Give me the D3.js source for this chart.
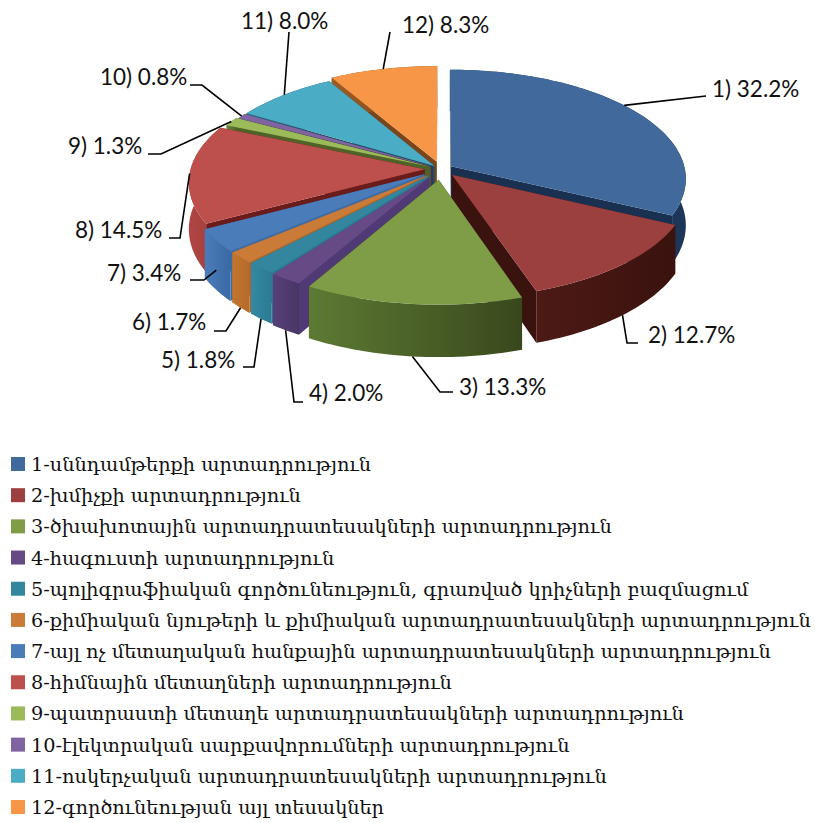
<!DOCTYPE html>
<html>
<head>
<meta charset="utf-8">
<script src="https://cdnjs.cloudflare.com/ajax/libs/d3/7.8.5/d3.min.js"></script>
<style>
html, body { margin: 0; padding: 0; background: #fff; }
svg { display: block; }
</style>
</head>
<body>
<svg id="chart"></svg>
<script>
const shares = [32.2, 12.7, 13.3, 2.0, 1.8, 1.7, 3.4, 14.5, 1.3, 0.8, 8.0, 8.3];
const categories = [
    "1-սննդամթերքի արտադրություն",
    "2-խմիչքի արտադրություն",
    "3-ծխախոտային արտադրատեսակների արտադրություն",
    "4-հագուստի արտադրություն",
    "5-պոլիգրաֆիական գործունեություն, գրառված կրիչների բազմացում",
    "6-քիմիական նյութերի և քիմիական արտադրատեսակների արտադրություն",
    "7-այլ ոչ մետաղական հանքային արտադրատեսակների արտադրություն",
    "8-հիմնային մետաղների արտադրություն",
    "9-պատրաստի մետաղե արտադրատեսակների արտադրություն",
    "10-էլեկտրական սարքավորումների արտադրություն",
    "11-ոսկերչական արտադրատեսակների արտադրություն",
    "12-գործունեության այլ տեսակներ"
];
const topColors = ["#41699b", "#9b403e", "#7f9c47", "#664a86", "#34869f", "#c97b37", "#4a7cba", "#bd4f4c", "#9bbb59", "#8064a2", "#4bacc6", "#f79646"];
const wallLight = ["#35577f", "#4d1a16", "#5d7a34", "#57407a", "#358aa3", "#c4752f", "#4a7cba", "#b04644", "#6f8a3c", "#5f4a7d", "#2c6f85", "#9c5c24"];
const wallDark = ["#1d3557", "#3a120e", "#39481c", "#493565", "#2a7a92", "#b56a2a", "#3a69a2", "#9f3c3a", "#4f6328", "#40305a", "#1e5265", "#7a4518"];
const cutColors = ["#1a3050", "#3a120e", "#39481c", "#4f3a75", "#2a7a92", "#ab6729", "#3d6ca6", "#6a1c1a", "#4f6328", "#40305a", "#1e5265", "#7a4518"];

// pie geometry and perspective
const W = 815, H = 823;
const cx = 441, cy = 169, rx = 234, ry = 108, k = 0.113, depth = 46;
const explode = [0.05, 0.07, 0.1, 0.09, 0.085, 0.085, 0.085, 0.07, 0.05, 0.04, 0.04, 0.07];

const svg = d3.select("#chart").attr("width", W).attr("height", H);
const defs = svg.append("defs");

const xScale = d3.scaleLinear().domain([-1, 1]).range([cx - rx, cx + rx]);
const yScale = d3.scaleLinear().domain([-1, 1]).range([cy - ry, cy + ry]);
const zScale = d3.scaleLinear().domain([0, 1]).range([0, depth]);

function project(u, v, z) {
    const s = 1 / (1 - k * v);
    return [xScale(u * s), yScale(v * s) + zScale(z) * s];
}

const arcs = d3.pie().sort(null).value(d => d)(shares).map((a, i) => {
    const mid = (a.startAngle + a.endAngle) / 2;
    return {
        i: i,
        start: a.startAngle,
        end: a.endAngle,
        mid: mid,
        ox: Math.sin(mid) * explode[i],
        oy: -Math.cos(mid) * explode[i]
    };
});

const line = d3.line();

function rim(d, z) {
    const n = Math.max(4, Math.ceil((d.end - d.start) * 40));
    return d3.range(n + 1).map(j => {
        const t = d.start + (d.end - d.start) * j / n;
        return project(Math.sin(t) + d.ox, -Math.cos(t) + d.oy, z);
    });
}

function apex(d, z) {
    return project(d.ox, d.oy, z);
}

function corner(d, t, z) {
    return project(Math.sin(t) + d.ox, -Math.cos(t) + d.oy, z);
}

arcs.forEach(d => {
    const g = defs.append("linearGradient").attr("id", "wall" + d.i);
    g.append("stop").attr("offset", "0%").attr("stop-color", wallLight[d.i]);
    g.append("stop").attr("offset", "100%").attr("stop-color", wallDark[d.i]);
});

// back slices first
const order = arcs.slice().sort((a, b) => d3.ascending(-Math.cos(a.mid), -Math.cos(b.mid)));

const slices = svg.append("g").selectAll("g").data(order).enter().append("g");

slices.append("path")
    .attr("d", d => line([apex(d, 0), corner(d, d.start, 0), corner(d, d.start, 1), apex(d, 1)]) + "Z")
    .attr("fill", d => cutColors[d.i]);
slices.append("path")
    .attr("d", d => line([apex(d, 0), corner(d, d.end, 0), corner(d, d.end, 1), apex(d, 1)]) + "Z")
    .attr("fill", d => cutColors[d.i]);
slices.append("path")
    .attr("d", d => line(rim(d, 0).concat(rim(d, 1).reverse())) + "Z")
    .attr("fill", d => `url(#wall${d.i})`);
slices.append("path")
    .attr("d", d => line([apex(d, 0)].concat(rim(d, 0))) + "Z")
    .attr("fill", d => topColors[d.i]);

// data labels with leader lines: label anchor, elbow, depth and angle shift of the attach point
const labelFont = "Lato, 'Open Sans', sans-serif";
const labelLayout = [
    {x: 712, y: 89, elbow: [[706, 96]], z: 0, shift: -0.09},
    {x: 648, y: 335, elbow: [[638, 343], [627, 343]], z: 1, shift: 0},
    {x: 459, y: 387, elbow: [[453, 392], [440, 392]], z: 1, shift: 0},
    {x: 309, y: 393, elbow: [[303, 402], [294, 402]], z: 1, shift: 0},
    {x: 161, y: 360, elbow: [[243, 367], [254, 367]], z: 1, shift: 0},
    {x: 132, y: 322, elbow: [[214, 331], [226, 331]], z: 1, shift: 0},
    {x: 107, y: 273, elbow: [[190, 280], [204, 280]], z: 0.6, shift: 0},
    {x: 75, y: 230, elbow: [[169, 238], [180, 238]], z: 0, shift: 0},
    {x: 68, y: 146, elbow: [[148, 154], [161, 154]], z: 0, shift: 0},
    {x: 100, y: 77, elbow: [[190, 85], [202, 85]], z: 0, shift: 0},
    {x: 241, y: 21, elbow: [[289, 32]], z: 0, shift: 0},
    {x: 402, y: 25, elbow: [[390, 32]], z: 0, shift: 0}
];

svg.append("g").selectAll("path").data(arcs).enter().append("path")
    .attr("fill", "none")
    .attr("stroke", "#000")
    .attr("stroke-width", 1.6)
    .attr("d", d => {
        const l = labelLayout[d.i];
        return line(l.elbow.concat([corner(d, d.mid + l.shift, l.z)]));
    });

svg.append("g").selectAll("text").data(arcs).enter().append("text")
    .attr("x", d => labelLayout[d.i].x)
    .attr("y", d => labelLayout[d.i].y + 8)
    .style("font-family", labelFont)
    .style("font-size", "22.5px")
    .attr("fill", "#111")
    .text(d => `${d.i + 1}) ${shares[d.i].toFixed(1)}%`);

// legend
const legendY = d3.scalePoint().domain(categories).range([464, 807]);
const legend = svg.append("g").selectAll("g").data(categories).enter().append("g")
    .attr("transform", d => `translate(0, ${legendY(d)})`);
legend.append("rect")
    .attr("x", 11).attr("y", -7).attr("width", 14).attr("height", 14)
    .attr("fill", (d, i) => topColors[i]);
legend.append("text")
    .attr("x", 31).attr("y", 7)
    .style("font-family", "'DejaVu Serif', serif")
    .style("font-size", "19.3px")
    .attr("fill", "#111")
    .text(d => d);
</script>
</body>
</html>
